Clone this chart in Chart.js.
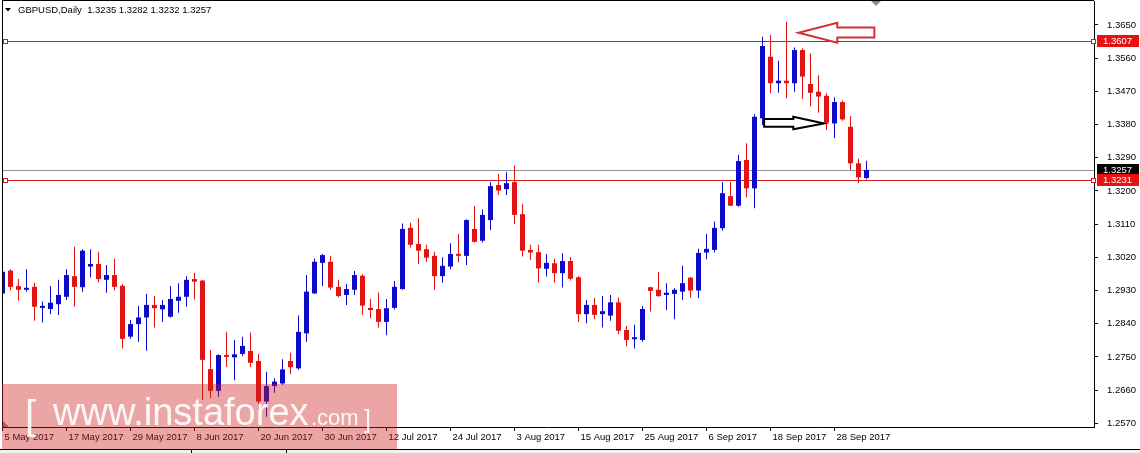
<!DOCTYPE html>
<html>
<head>
<meta charset="utf-8">
<script src="https://cdn.jsdelivr.net/npm/chart.js@4.4.0/dist/chart.umd.min.js"></script>
<style>
  html, body { margin: 0; padding: 0; background: #fff; overflow: hidden; }
</style>
</head>
<body>
<canvas id="chart" width="1140" height="453"></canvas>
<script>
// GBPUSD daily, 5 May 2017 .. 4 Oct 2017 (one bar per trading day)
var symbol = 'GBPUSD';
var period = 'Daily';

var opens = [
  1.2922, 1.2984, 1.2942, 1.2932, 1.2940, 1.2883, 1.2880, 1.2893, 1.2913, 1.2969,
  1.2939, 1.2995, 1.3002, 1.2959, 1.2972, 1.2943, 1.2805, 1.2839, 1.2857, 1.2891,
  1.2879, 1.2859, 1.2902, 1.2913, 1.2961, 1.2957, 1.2717, 1.2658, 1.2755, 1.2749,
  1.2758, 1.2766, 1.2739, 1.2629, 1.2671, 1.2678, 1.2739, 1.2719, 1.2814, 1.2922,
  1.3005, 1.3008, 1.2940, 1.2918, 1.2932, 1.2970, 1.2883, 1.2880, 1.2845, 1.2883,
  1.2934, 1.3100, 1.3056, 1.3042, 1.3024, 1.2969, 1.2995, 1.3029, 1.3024, 1.3097,
  1.3065, 1.3121, 1.3216, 1.3205, 1.3224, 1.3137, 1.3040, 1.3034, 1.2989, 1.3004,
  1.2977, 1.3010, 1.2966, 1.2866, 1.2891, 1.2866, 1.2862, 1.2898, 1.2823, 1.2798,
  1.2796, 1.2939, 1.2932, 1.2918, 1.2921, 1.2927, 1.2965, 1.2930, 1.3033, 1.3040,
  1.3099, 1.3186, 1.3160, 1.3284, 1.3207, 1.3397, 1.3564, 1.3492, 1.3499, 1.3492,
  1.3582, 1.3490, 1.3469, 1.3458, 1.3383, 1.3441, 1.3374, 1.3275, 1.3235
];
var highs = [
  1.2986, 1.2988, 1.2961, 1.2988, 1.2951, 1.2900, 1.2942, 1.2959, 1.2988, 1.3049,
  1.3042, 1.3042, 1.3035, 1.2999, 1.3016, 1.2948, 1.2850, 1.2888, 1.2921, 1.2915,
  1.2904, 1.2942, 1.2950, 1.2969, 1.2978, 1.2959, 1.2769, 1.2757, 1.2818, 1.2796,
  1.2805, 1.2816, 1.2758, 1.2710, 1.2692, 1.2744, 1.2761, 1.2862, 1.2972, 1.3017,
  1.3029, 1.3024, 1.2959, 1.2948, 1.2983, 1.2974, 1.2907, 1.2925, 1.2907, 1.2956,
  1.3112, 1.3114, 1.3126, 1.3054, 1.3035, 1.3020, 1.3058, 1.3083, 1.3123, 1.3159,
  1.3150, 1.3224, 1.3246, 1.3251, 1.3270, 1.3165, 1.3054, 1.3054, 1.3029, 1.3016,
  1.3031, 1.3020, 1.2969, 1.2904, 1.2910, 1.2915, 1.2918, 1.2911, 1.2834, 1.2837,
  1.2888, 1.2940, 1.2980, 1.2950, 1.2936, 1.2997, 1.2967, 1.3043, 1.3083, 1.3117,
  1.3224, 1.3224, 1.3298, 1.3329, 1.3408, 1.3618, 1.3623, 1.3553, 1.3659, 1.3589,
  1.3587, 1.3573, 1.3514, 1.3465, 1.3454, 1.3445, 1.3403, 1.3287, 1.3282
];
var lows = [
  1.2900, 1.2930, 1.2902, 1.2927, 1.2848, 1.2843, 1.2866, 1.2864, 1.2904, 1.2886,
  1.2927, 1.2965, 1.2952, 1.2924, 1.2930, 1.2773, 1.2799, 1.2791, 1.2767, 1.2830,
  1.2845, 1.2857, 1.2870, 1.2886, 1.2906, 1.2633, 1.2638, 1.2642, 1.2723, 1.2687,
  1.2752, 1.2723, 1.2606, 1.2588, 1.2653, 1.2674, 1.2704, 1.2715, 1.2791, 1.2921,
  1.2942, 1.2932, 1.2912, 1.2891, 1.2918, 1.2864, 1.2855, 1.2829, 1.2809, 1.2879,
  1.2932, 1.3047, 1.3002, 1.3008, 1.2932, 1.2951, 1.2988, 1.3006, 1.2999, 1.3060,
  1.3060, 1.3094, 1.3189, 1.3189, 1.3110, 1.3022, 1.3013, 1.2951, 1.2968, 1.2951,
  1.2938, 1.2957, 1.2845, 1.2841, 1.2852, 1.2830, 1.2848, 1.2812, 1.2778, 1.2773,
  1.2791, 1.2873, 1.2913, 1.2877, 1.2852, 1.2904, 1.2911, 1.2909, 1.3015, 1.3033,
  1.3092, 1.3159, 1.3157, 1.3183, 1.3153, 1.3379, 1.3465, 1.3466, 1.3451, 1.3469,
  1.3449, 1.3429, 1.3412, 1.3365, 1.3343, 1.3390, 1.3257, 1.3221, 1.3232
];
var closes = [
  1.2981, 1.2940, 1.2932, 1.2937, 1.2886, 1.2888, 1.2897, 1.2918, 1.2972, 1.2940,
  1.3038, 1.3002, 1.2961, 1.2972, 1.2940, 1.2799, 1.2839, 1.2857, 1.2891, 1.2882,
  1.2891, 1.2907, 1.2913, 1.2959, 1.2954, 1.2742, 1.2658, 1.2755, 1.2750, 1.2757,
  1.2780, 1.2734, 1.2629, 1.2671, 1.2683, 1.2716, 1.2722, 1.2818, 1.2927, 1.3008,
  1.3026, 1.2938, 1.2915, 1.2934, 1.2972, 1.2889, 1.2877, 1.2845, 1.2882, 1.2940,
  1.3097, 1.3054, 1.3038, 1.3019, 1.2969, 1.2997, 1.3029, 1.3024, 1.3121, 1.3062,
  1.3135, 1.3213, 1.3201, 1.3221, 1.3135, 1.3038, 1.3033, 1.2990, 1.3005, 1.2977,
  1.3010, 1.2962, 1.2866, 1.2891, 1.2864, 1.2874, 1.2898, 1.2821, 1.2796, 1.2802,
  1.2880, 1.2929, 1.2915, 1.2924, 1.2932, 1.2950, 1.2930, 1.3032, 1.3043, 1.3100,
  1.3194, 1.3160, 1.3281, 1.3207, 1.3401, 1.3593, 1.3492, 1.3499, 1.3492, 1.3582,
  1.3510, 1.3466, 1.3456, 1.3385, 1.3441, 1.3394, 1.3275, 1.3237, 1.3257
];

// date axis: bar index of each label
var tickIdx = [0, 8, 16, 24, 32, 40, 48, 56, 64, 72, 80, 88, 96, 104];
var tickLabels = ['5 May 2017', '17 May 2017', '29 May 2017', '8 Jun 2017', '20 Jun 2017',
  '30 Jun 2017', '12 Jul 2017', '24 Jul 2017', '3 Aug 2017', '15 Aug 2017',
  '25 Aug 2017', '6 Sep 2017', '18 Sep 2017', '28 Sep 2017'];
var yTicks = [1.2570, 1.2660, 1.2750, 1.2840, 1.2930, 1.3020, 1.3110,
  1.3200, 1.3290, 1.3380, 1.3470, 1.3560, 1.3650];

// drawn levels and the bid line
var levels = [1.3607, 1.3231];
var bidPrice = 1.3257;

// hand drawn arrows, [bar index, price]
var redArrow = [[99.5, 1.3629], [104.35, 1.3656], [104.35, 1.3643], [108.98, 1.3643],
  [108.98, 1.3616], [104.35, 1.3616], [104.35, 1.3602]];
var blackArrow = [[95.2, 1.3395], [98.85, 1.3395], [98.85, 1.3401], [102.7, 1.3383],
  [98.85, 1.3367], [98.85, 1.3374], [95.2, 1.3374]];
var shiftAt = 109.2;

var BLUE = '#0a0ac8';
var RED = '#e11414';
var LEVEL = '#d41c1c';
var FONT = 'Liberation Sans, Arial, sans-serif';

function candleColor(c) {
  return closes[c.dataIndex] >= opens[c.dataIndex] ? BLUE : RED;
}

var bodies = opens.map(function (o, i) { return { x: i, y: [o, closes[i]] }; });
var wicks = lows.map(function (l, i) { return { x: i, y: [l, highs[i]] }; });

function poly(ctx, x, y, pts) {
  ctx.beginPath();
  pts.forEach(function (p, i) {
    var px = x.getPixelForValue(p[0]), py = y.getPixelForValue(p[1]);
    if (i === 0) ctx.moveTo(px, py); else ctx.lineTo(px, py);
  });
  ctx.closePath();
}

var overlay = {
  id: 'overlay',
  beforeDatasetsDraw: function (chart) {
    var ctx = chart.ctx, a = chart.chartArea, y = chart.scales.y;
    ctx.save();
    ctx.lineWidth = 1;
    var py = Math.round(y.getPixelForValue(bidPrice)) + 0.5;
    ctx.strokeStyle = '#8c939a';
    ctx.beginPath(); ctx.moveTo(a.left, py); ctx.lineTo(a.right, py); ctx.stroke();
    ctx.strokeStyle = LEVEL;
    levels.forEach(function (v) {
      var ly = Math.round(y.getPixelForValue(v)) + 0.5;
      ctx.beginPath(); ctx.moveTo(a.left, ly); ctx.lineTo(a.right, ly); ctx.stroke();
    });
    ctx.restore();
  },
  afterDatasetsDraw: function (chart) {
    var ctx = chart.ctx, x = chart.scales.x, y = chart.scales.y;
    ctx.save();
    ctx.lineWidth = 2;
    ctx.lineJoin = 'miter';
    ctx.strokeStyle = '#d23232';
    poly(ctx, x, y, redArrow); ctx.stroke();
    ctx.fillStyle = '#fff';
    poly(ctx, x, y, blackArrow); ctx.fill();
    ctx.strokeStyle = '#000';
    poly(ctx, x, y, blackArrow); ctx.stroke();
    ctx.restore();
  },
  afterDraw: function (chart) {
    var ctx = chart.ctx, a = chart.chartArea, x = chart.scales.x, y = chart.scales.y;
    ctx.save();
    // frame top and left
    ctx.fillStyle = '#000';
    ctx.fillRect(a.left, 0, a.right - a.left, 1);
    ctx.fillRect(a.left, 0, 1, a.bottom);

    // level end squares
    levels.forEach(function (v) {
      var ly = Math.round(y.getPixelForValue(v));
      ctx.fillStyle = '#fff';
      ctx.strokeStyle = LEVEL;
      ctx.lineWidth = 1;
      ctx.fillRect(a.left + 1, ly - 2, 4, 4);
      ctx.strokeRect(a.left + 1.5, ly - 1.5, 4, 4);
      ctx.fillRect(a.right - 3, ly - 2, 4, 4);
      ctx.strokeRect(a.right - 2.5, ly - 1.5, 4, 4);
    });

    // price boxes on the axis
    ctx.font = '9.5px ' + FONT;
    ctx.textBaseline = 'middle';
    ctx.textAlign = 'left';
    var boxes = [[bidPrice, '#000'], [levels[1], '#e81010'], [levels[0], '#e81010']];
    boxes.forEach(function (b) {
      var by = Math.round(y.getPixelForValue(b[0]));
      ctx.fillStyle = b[1];
      ctx.fillRect(a.right + 3, by - 6, 42, 12);
      ctx.fillStyle = '#fff';
      ctx.fillText(b[0].toFixed(4), a.right + 9, by + 0.5);
    });

    // title
    var n = closes.length - 1;
    ctx.fillStyle = '#000';
    ctx.beginPath(); ctx.moveTo(5, 8); ctx.lineTo(11, 8); ctx.lineTo(8, 11.5); ctx.closePath(); ctx.fill();
    ctx.font = '9.5px ' + FONT;
    ctx.fillText(symbol + ',' + period + '  ' + opens[n].toFixed(4) + ' ' + highs[n].toFixed(4) + ' ' +
      lows[n].toFixed(4) + ' ' + closes[n].toFixed(4), 18, 10);

    // chart shift marker
    var sx = Math.round(x.getPixelForValue(shiftAt));
    ctx.fillStyle = '#8a8a8a';
    ctx.beginPath(); ctx.moveTo(sx - 5, 1); ctx.lineTo(sx + 5, 1); ctx.lineTo(sx, 6); ctx.closePath(); ctx.fill();
    ctx.beginPath(); ctx.moveTo(a.left + 1, a.bottom - 6); ctx.lineTo(a.left + 1, a.bottom); ctx.lineTo(a.left + 7, a.bottom); ctx.closePath(); ctx.fill();

    // bottom strip
    ctx.fillStyle = '#f0f0f0';
    ctx.fillRect(0, 449, 1140, 4);
    ctx.fillStyle = '#000';
    ctx.fillRect(0, 449, 1140, 1);
    ctx.fillRect(191, 449, 1, 4);
    ctx.fillRect(286, 449, 1, 4);

    // watermark
    ctx.fillStyle = 'rgba(205, 30, 30, 0.4)';
    ctx.fillRect(a.left, 384, 395, 65);
    ctx.fillStyle = 'rgba(255, 255, 255, 0.92)';
    ctx.textBaseline = 'alphabetic';
    ctx.font = '40px ' + FONT;
    ctx.fillText('[', 25, 429);
    ctx.font = '38px ' + FONT;
    ctx.fillText('www.instaforex', 53, 425);
    ctx.font = '22px ' + FONT;
    ctx.fillText('.com', 311, 425);
    ctx.font = '25px ' + FONT;
    ctx.fillText(']', 364, 428);
    ctx.restore();
  }
};

new Chart(document.getElementById('chart'), {
  type: 'bar',
  data: {
    datasets: [{
      data: bodies,
      backgroundColor: candleColor,
      barThickness: 5,
      minBarLength: 2,
      grouped: false,
      borderWidth: 0,
      inflateAmount: 0
    }, {
      data: wicks,
      backgroundColor: candleColor,
      barThickness: 1,
      minBarLength: 1,
      grouped: false,
      borderWidth: 0,
      inflateAmount: 0
    }]
  },
  options: {
    responsive: false,
    animation: false,
    devicePixelRatio: 1,
    layout: { padding: { left: 2, top: 1, right: 0, bottom: 6 } },
    plugins: {
      legend: { display: false },
      tooltip: { enabled: false }
    },
    scales: {
      x: {
        type: 'linear',
        offset: false,
        min: -0.0625,
        max: 136.4375,
        afterBuildTicks: function (s) { s.ticks = tickIdx.map(function (v) { return { value: v }; }); },
        afterFit: function (s) { s.height = 20; s.paddingLeft = 0; s.paddingRight = 0; },
        grid: { drawOnChartArea: false, drawTicks: true, tickLength: 4, color: '#000', offset: false },
        border: { display: true, color: '#000', width: 1 },
        ticks: {
          autoSkip: false,
          maxRotation: 0,
          align: 'start',
          labelOffset: 2,
          padding: 1,
          color: '#000',
          font: { family: FONT, size: 9.5 },
          callback: function (v, i) { return tickLabels[i]; }
        }
      },
      y: {
        position: 'right',
        min: 1.2560,
        max: 1.3715,
        afterBuildTicks: function (s) { s.ticks = yTicks.map(function (v) { return { value: v }; }); },
        afterFit: function (s) { s.width = 46; s.paddingTop = 0; s.paddingBottom = 0; },
        grid: { drawOnChartArea: false, drawTicks: true, tickLength: 4, color: '#000' },
        border: { display: true, color: '#000', width: 1 },
        ticks: {
          padding: 9,
          color: '#000',
          font: { family: FONT, size: 9.5 },
          callback: function (v) { return v.toFixed(4); }
        }
      }
    }
  },
  plugins: [overlay]
});
</script>
</body>
</html>
